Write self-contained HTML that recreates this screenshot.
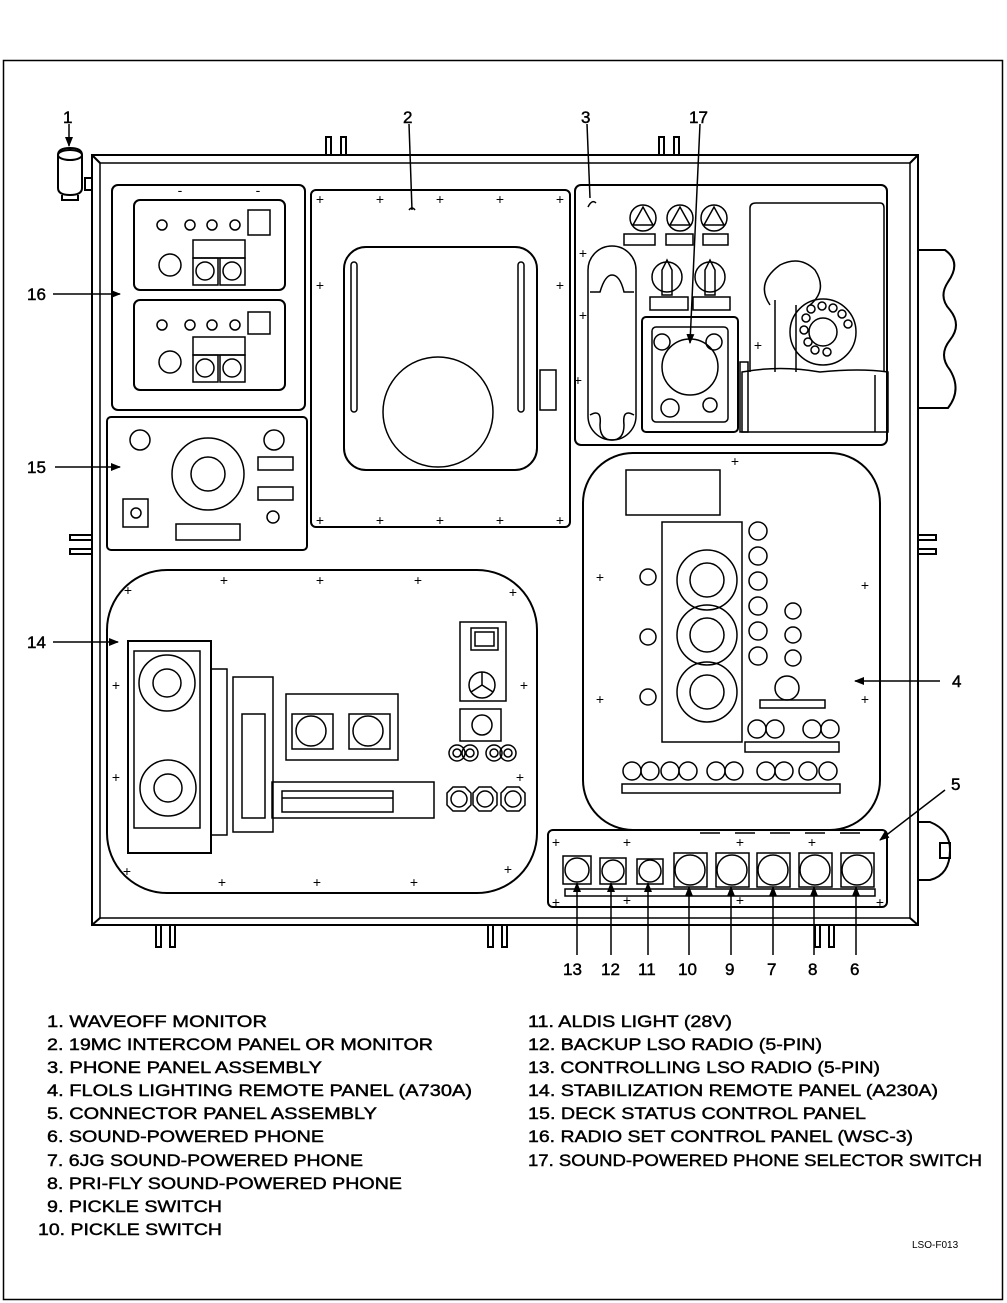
<!DOCTYPE html>
<html><head><meta charset="utf-8"><style>
html,body{margin:0;padding:0;background:#fff}
svg{display:block}
text{font-family:"Liberation Sans",Arial,sans-serif;fill:#000}
.b text{stroke:#000;stroke-width:0.45}
</style></head><body>
<svg width="1007" height="1303" viewBox="0 0 1007 1303" xmlns="http://www.w3.org/2000/svg">
<defs>
<marker id="ar" markerWidth="10" markerHeight="10" refX="9" refY="5" orient="auto" markerUnits="userSpaceOnUse"><path d="M0,1 L10,5 L0,9 z" fill="#000"/></marker>
</defs>
<rect x="3.5" y="60.5" width="999" height="1239" fill="none" stroke="#000" stroke-width="1.5"/>
<g fill="none" stroke="#000" stroke-width="2">
<rect x="92" y="155" width="826" height="770"/>
<rect x="100" y="163" width="810" height="755" stroke-width="1.5"/>
<line x1="92" y1="155" x2="100" y2="163"/><line x1="918" y1="155" x2="910" y2="163"/>
<line x1="92" y1="925" x2="100" y2="918"/><line x1="918" y1="925" x2="910" y2="918"/>
<rect x="326" y="137" width="5" height="18"/><rect x="341" y="137" width="5" height="18"/>
<rect x="659" y="137" width="5" height="18"/><rect x="674" y="137" width="5" height="18"/>
<rect x="156" y="925" width="5" height="22"/><rect x="170" y="925" width="5" height="22"/>
<rect x="488" y="925" width="5" height="22"/><rect x="502" y="925" width="5" height="22"/>
<rect x="815" y="925" width="5" height="22"/><rect x="829" y="925" width="5" height="22"/>
<rect x="70" y="535" width="22" height="5"/><rect x="70" y="549" width="22" height="5"/>
<rect x="918" y="535" width="18" height="5"/><rect x="918" y="549" width="18" height="5"/>
<rect x="85" y="178" width="7" height="12"/>
<path d="M918,250 L945,250 Q962,262 948,282 Q938,297 950,310 Q962,325 950,340 Q938,355 950,370 Q962,390 948,408 L918,408"/>
<path d="M918,822 L930,822 Q950,830 950,850 Q950,875 930,880 L918,880"/>
<rect x="940" y="843" width="10" height="15"/>
<path d="M58,155 Q58,148 70,148 Q82,148 82,155 L82,188 Q82,195 70,195 Q58,195 58,188 Z"/>
<ellipse cx="70" cy="155" rx="12" ry="5"/>
<path d="M62,195 L62,200 L78,200 L78,195"/>
<rect x="112" y="185" width="193" height="225" rx="6"/>
<rect x="134" y="200" width="151" height="90" rx="6"/>
<rect x="134" y="300" width="151" height="90" rx="6"/>
<g stroke-width="1.5">
<circle cx="162" cy="225" r="5"/><circle cx="190" cy="225" r="5"/><circle cx="212" cy="225" r="5"/><circle cx="235" cy="225" r="5"/>
<rect x="248" y="210" width="22" height="25"/>
<circle cx="170" cy="265" r="11"/>
<rect x="193" y="240" width="52" height="18"/><rect x="193" y="258" width="25" height="27"/><rect x="220" y="258" width="25" height="27"/>
<circle cx="205" cy="271" r="9"/><circle cx="232" cy="271" r="9"/>
<circle cx="162" cy="325" r="5"/><circle cx="190" cy="325" r="5"/><circle cx="212" cy="325" r="5"/><circle cx="235" cy="325" r="5"/>
<rect x="248" y="312" width="22" height="22"/>
<circle cx="170" cy="362" r="11"/>
<rect x="193" y="337" width="52" height="18"/><rect x="193" y="355" width="25" height="27"/><rect x="220" y="355" width="25" height="27"/>
<circle cx="205" cy="368" r="9"/><circle cx="232" cy="368" r="9"/>
</g>
<rect x="107" y="417" width="200" height="133" rx="4"/>
<g stroke-width="1.5">
<circle cx="140" cy="440" r="10"/><circle cx="274" cy="440" r="10"/>
<circle cx="208" cy="474" r="36"/><circle cx="208" cy="474" r="17"/>
<rect x="258" y="457" width="35" height="13"/><rect x="258" y="487" width="35" height="13"/>
<rect x="123" y="499" width="25" height="28"/><circle cx="136" cy="513" r="5"/>
<circle cx="273" cy="517" r="6"/>
<rect x="176" y="524" width="64" height="16"/>
</g>
<rect x="311" y="190" width="259" height="337" rx="5"/>
<rect x="344" y="247" width="193" height="223" rx="22"/>
<g stroke-width="1.5">
<rect x="351" y="262" width="6" height="150" rx="3"/><rect x="518" y="262" width="6" height="150" rx="3"/>
<circle cx="438" cy="412" r="55"/>
<rect x="540" y="370" width="16" height="40"/>
</g>
<rect x="575" y="185" width="312" height="260" rx="6"/>
<g stroke-width="1.5">
<circle cx="643" cy="218" r="13"/><circle cx="680" cy="218" r="13"/><circle cx="714" cy="218" r="13"/>
<path d="M633,225 L643,207 L653,225 Z"/><path d="M670,225 L680,207 L690,225 Z"/><path d="M704,225 L714,207 L724,225 Z"/>
<rect x="624" y="234" width="31" height="11"/><rect x="666" y="234" width="27" height="11"/><rect x="703" y="234" width="25" height="11"/>
<rect x="588" y="246" width="48" height="194" rx="24"/>
<path d="M590,292 L600,292 Q605,275 612,275 Q620,275 624,292 L634,292"/>
<path d="M590,415 Q602,408 600,425 Q600,440 612,440 Q624,440 624,425 Q622,408 634,415"/>
<circle cx="667" cy="277" r="15"/><circle cx="710" cy="277" r="15"/>
<path d="M662,295 L662,270 L667,260 L672,270 L672,295 Z"/><path d="M705,295 L705,270 L710,260 L715,270 L715,295 Z"/>
<rect x="650" y="297" width="38" height="13"/><rect x="693" y="297" width="37" height="13"/>
</g>
<rect x="642" y="317" width="96" height="115" rx="4"/>
<g stroke-width="1.5">
<rect x="652" y="327" width="76" height="95" rx="4"/>
<circle cx="690" cy="367" r="28"/>
<circle cx="662" cy="342" r="8"/><circle cx="714" cy="342" r="8"/><circle cx="670" cy="408" r="9"/><circle cx="710" cy="405" r="7"/>
<path d="M750,372 L750,208 Q750,203 756,203 L880,203 Q884,203 884,208 L884,372"/>
<path d="M770,305 Q755,283 780,265 Q800,255 815,270 Q828,290 810,305"/>
<line x1="775" y1="300" x2="775" y2="372"/><line x1="796" y1="305" x2="796" y2="372"/>
<circle cx="823" cy="332" r="33"/><circle cx="823" cy="332" r="14"/>
<circle cx="811" cy="309" r="4"/><circle cx="822" cy="306" r="4"/><circle cx="833" cy="308" r="4"/><circle cx="842" cy="314" r="4"/><circle cx="848" cy="324" r="4"/><circle cx="806" cy="318" r="4"/><circle cx="804" cy="330" r="4"/><circle cx="808" cy="342" r="4"/><circle cx="815" cy="350" r="4"/><circle cx="827" cy="352" r="4"/>
<path d="M742,372 Q780,365 820,372 Q860,368 888,372 L888,432 L742,432 Z"/>
<rect x="740" y="362" width="8" height="70"/>
<line x1="875" y1="375" x2="875" y2="432"/>
</g>
<rect x="583" y="453" width="297" height="377" rx="50"/>
<g stroke-width="1.5">
<rect x="626" y="470" width="94" height="45"/>
<rect x="662" y="522" width="80" height="220"/>
<circle cx="707" cy="580" r="30"/><circle cx="707" cy="580" r="17"/>
<circle cx="707" cy="635" r="30"/><circle cx="707" cy="635" r="17"/>
<circle cx="707" cy="692" r="30"/><circle cx="707" cy="692" r="17"/>
<circle cx="648" cy="577" r="8"/><circle cx="648" cy="637" r="8"/><circle cx="648" cy="697" r="8"/>
<circle cx="758" cy="531" r="9"/><circle cx="758" cy="556" r="9"/><circle cx="758" cy="581" r="9"/><circle cx="758" cy="606" r="9"/><circle cx="758" cy="631" r="9"/><circle cx="758" cy="656" r="9"/>
<circle cx="793" cy="611" r="8"/><circle cx="793" cy="635" r="8"/><circle cx="793" cy="658" r="8"/>
<circle cx="787" cy="688" r="12"/><rect x="760" y="700" width="65" height="8"/>
<circle cx="757" cy="729" r="9"/><circle cx="775" cy="729" r="9"/><circle cx="812" cy="729" r="9"/><circle cx="830" cy="729" r="9"/>
<rect x="745" y="742" width="94" height="10"/>
<circle cx="632" cy="771" r="9"/><circle cx="650" cy="771" r="9"/><circle cx="670" cy="771" r="9"/><circle cx="688" cy="771" r="9"/><circle cx="716" cy="771" r="9"/><circle cx="734" cy="771" r="9"/><circle cx="766" cy="771" r="9"/><circle cx="784" cy="771" r="9"/><circle cx="808" cy="771" r="9"/><circle cx="828" cy="771" r="9"/>
<rect x="622" y="784" width="218" height="9"/>
</g>
<rect x="107" y="570" width="430" height="323" rx="60"/>
<rect x="128" y="641" width="83" height="212"/>
<g stroke-width="1.5">
<rect x="134" y="651" width="66" height="177"/>
<circle cx="167" cy="683" r="28"/><circle cx="167" cy="683" r="14"/>
<circle cx="168" cy="788" r="28"/><circle cx="168" cy="788" r="14"/>
<rect x="211" y="669" width="16" height="166"/>
<rect x="233" y="677" width="40" height="155"/><rect x="242" y="714" width="23" height="104"/>
<rect x="286" y="694" width="112" height="66"/>
<rect x="292" y="714" width="41" height="35"/><circle cx="311" cy="731" r="15"/>
<rect x="349" y="714" width="41" height="35"/><circle cx="368" cy="731" r="15"/>
<rect x="272" y="782" width="162" height="36"/><rect x="282" y="791" width="111" height="21"/><line x1="282" y1="798" x2="393" y2="798"/>
<rect x="460" y="622" width="46" height="79"/><rect x="471" y="628" width="27" height="22"/><rect x="475" y="632" width="19" height="14"/>
<circle cx="482" cy="685" r="13"/><path d="M482,685 L482,672 M482,685 L471,692 M482,685 L493,692"/>
<rect x="460" y="709" width="41" height="32"/><circle cx="482" cy="725" r="10"/>
<circle cx="457" cy="753" r="8"/><circle cx="470" cy="753" r="8"/><circle cx="494" cy="753" r="8"/><circle cx="508" cy="753" r="8"/>
<circle cx="457" cy="753" r="4"/><circle cx="470" cy="753" r="4"/><circle cx="494" cy="753" r="4"/><circle cx="508" cy="753" r="4"/>
<path d="M447,793 L453,787 L465,787 L471,793 L471,805 L465,811 L453,811 L447,805 Z"/><circle cx="459" cy="799" r="8"/>
<path d="M473,793 L479,787 L491,787 L497,793 L497,805 L491,811 L479,811 L473,805 Z"/><circle cx="485" cy="799" r="8"/>
<path d="M501,793 L507,787 L519,787 L525,793 L525,805 L519,811 L507,811 L501,805 Z"/><circle cx="513" cy="799" r="8"/>
</g>
<rect x="548" y="830" width="339" height="77" rx="5"/>
<g stroke-width="1.5">
<rect x="563" y="856" width="28" height="28"/><circle cx="577" cy="870" r="12"/>
<rect x="600" y="858" width="26" height="26"/><circle cx="613" cy="871" r="11"/>
<rect x="637" y="859" width="26" height="25"/><circle cx="650" cy="871" r="11"/>
<rect x="674" y="853" width="33" height="34"/><circle cx="690" cy="870" r="15"/>
<rect x="716" y="853" width="33" height="34"/><circle cx="732" cy="870" r="15"/>
<rect x="757" y="853" width="33" height="34"/><circle cx="773" cy="870" r="15"/>
<rect x="799" y="853" width="33" height="34"/><circle cx="815" cy="870" r="15"/>
<rect x="841" y="853" width="33" height="34"/><circle cx="857" cy="870" r="15"/>
<rect x="565" y="889" width="310" height="7"/>
</g>
<path d="M700,833 L720,833 M735,833 L755,833 M770,833 L790,833 M805,833 L825,833 M840,833 L860,833" stroke-width="1.5"/>
</g>
<g fill="#000" font-size="14" text-anchor="middle">
<text x="180" y="195">-</text><text x="258" y="195">-</text>
<text x="320" y="204">+</text><text x="380" y="204">+</text><text x="440" y="204">+</text><text x="500" y="204">+</text><text x="560" y="204">+</text>
<text x="320" y="290">+</text><text x="560" y="290">+</text><text x="320" y="525">+</text><text x="380" y="525">+</text><text x="440" y="525">+</text><text x="500" y="525">+</text><text x="560" y="525">+</text>
<text x="128" y="595">+</text><text x="224" y="585">+</text><text x="320" y="585">+</text><text x="418" y="585">+</text><text x="513" y="597">+</text>
<text x="116" y="690">+</text><text x="116" y="782">+</text><text x="524" y="690">+</text><text x="520" y="782">+</text>
<text x="127" y="876">+</text><text x="222" y="887">+</text><text x="317" y="887">+</text><text x="414" y="887">+</text><text x="508" y="874">+</text>
<text x="735" y="466">+</text><text x="600" y="582">+</text><text x="600" y="704">+</text><text x="865" y="590">+</text><text x="865" y="704">+</text>
<text x="556" y="847">+</text><text x="627" y="847">+</text><text x="740" y="847">+</text><text x="812" y="847">+</text><text x="556" y="907">+</text><text x="627" y="905">+</text><text x="740" y="905">+</text><text x="880" y="907">+</text>
<text x="583" y="258">+</text><text x="583" y="320">+</text><text x="578" y="385">+</text><text x="758" y="350">+</text>
</g>
<g stroke="#000" stroke-width="1.5" fill="none">
<line x1="69" y1="124" x2="69" y2="146" marker-end="url(#ar)"/>
<line x1="409" y1="124" x2="412" y2="210"/>
<path d="M409,210 q3,-4 6,0" />
<line x1="587" y1="124" x2="590" y2="198"/>
<path d="M588,207 q4,-8 8,-4"/>
<line x1="700" y1="124" x2="690" y2="343" marker-end="url(#ar)"/>
<line x1="53" y1="294" x2="120" y2="294" marker-end="url(#ar)"/>
<line x1="55" y1="467" x2="120" y2="467" marker-end="url(#ar)"/>
<line x1="53" y1="642" x2="118" y2="642" marker-end="url(#ar)"/>
<line x1="940" y1="681" x2="855" y2="681" marker-end="url(#ar)"/>
<line x1="945" y1="790" x2="880" y2="840" marker-end="url(#ar)"/>
<line x1="577" y1="955" x2="577" y2="883" marker-end="url(#ar)"/>
<line x1="611" y1="955" x2="611" y2="883" marker-end="url(#ar)"/>
<line x1="648" y1="955" x2="648" y2="883" marker-end="url(#ar)"/>
<line x1="689" y1="955" x2="689" y2="887" marker-end="url(#ar)"/>
<line x1="731" y1="955" x2="731" y2="887" marker-end="url(#ar)"/>
<line x1="773" y1="955" x2="773" y2="887" marker-end="url(#ar)"/>
<line x1="814" y1="955" x2="814" y2="887" marker-end="url(#ar)"/>
<line x1="856" y1="955" x2="856" y2="887" marker-end="url(#ar)"/>
</g>
<g font-size="17" class="b">
<text x="63" y="123">1</text><text x="403" y="123">2</text><text x="581" y="123">3</text><text x="689" y="123">17</text>
<text x="27" y="300">16</text><text x="27" y="473">15</text><text x="27" y="648">14</text>
<text x="952" y="687">4</text><text x="951" y="790">5</text>
<text x="563" y="975">13</text><text x="601" y="975">12</text><text x="638" y="975">11</text><text x="678" y="975">10</text><text x="725" y="975">9</text><text x="767" y="975">7</text><text x="808" y="975">8</text><text x="850" y="975">6</text>
</g>
<g font-size="17" class="b">
<text x="47" y="1027" textLength="220" lengthAdjust="spacingAndGlyphs">1. WAVEOFF MONITOR</text>
<text x="47" y="1050" textLength="386" lengthAdjust="spacingAndGlyphs">2. 19MC INTERCOM PANEL OR MONITOR</text>
<text x="47" y="1073" textLength="275" lengthAdjust="spacingAndGlyphs">3. PHONE PANEL ASSEMBLY</text>
<text x="47" y="1096" textLength="425" lengthAdjust="spacingAndGlyphs">4. FLOLS LIGHTING REMOTE PANEL (A730A)</text>
<text x="47" y="1119" textLength="330" lengthAdjust="spacingAndGlyphs">5. CONNECTOR PANEL ASSEMBLY</text>
<text x="47" y="1142" textLength="277" lengthAdjust="spacingAndGlyphs">6. SOUND-POWERED PHONE</text>
<text x="47" y="1166" textLength="316" lengthAdjust="spacingAndGlyphs">7. 6JG SOUND-POWERED PHONE</text>
<text x="47" y="1189" textLength="355" lengthAdjust="spacingAndGlyphs">8. PRI-FLY SOUND-POWERED PHONE</text>
<text x="47" y="1212" textLength="175" lengthAdjust="spacingAndGlyphs">9. PICKLE SWITCH</text>
<text x="38" y="1235" textLength="184" lengthAdjust="spacingAndGlyphs">10. PICKLE SWITCH</text>
<text x="528" y="1027" textLength="204" lengthAdjust="spacingAndGlyphs">11. ALDIS LIGHT (28V)</text>
<text x="528" y="1050" textLength="294" lengthAdjust="spacingAndGlyphs">12. BACKUP LSO RADIO (5-PIN)</text>
<text x="528" y="1073" textLength="352" lengthAdjust="spacingAndGlyphs">13. CONTROLLING LSO RADIO (5-PIN)</text>
<text x="528" y="1096" textLength="410" lengthAdjust="spacingAndGlyphs">14. STABILIZATION REMOTE PANEL (A230A)</text>
<text x="528" y="1119" textLength="338" lengthAdjust="spacingAndGlyphs">15. DECK STATUS CONTROL PANEL</text>
<text x="528" y="1142" textLength="385" lengthAdjust="spacingAndGlyphs">16. RADIO SET CONTROL PANEL (WSC-3)</text>
<text x="528" y="1166" textLength="454" lengthAdjust="spacingAndGlyphs">17. SOUND-POWERED PHONE SELECTOR SWITCH</text>
</g>
<text x="912" y="1248" font-size="10">LSO-F013</text>
</svg>
</body></html>
